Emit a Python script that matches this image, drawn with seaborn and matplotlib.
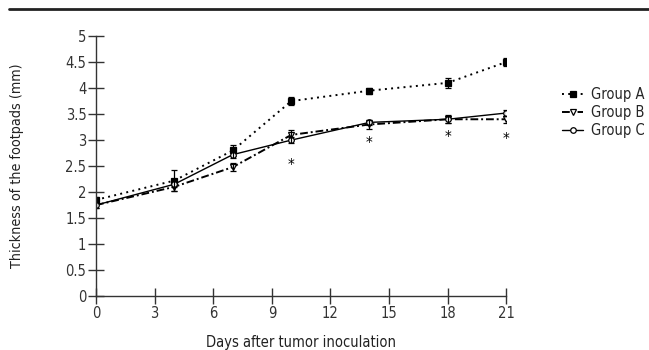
import matplotlib
matplotlib.use("Agg")
import matplotlib.pyplot as plt
import seaborn as sns
import pandas as pd
from matplotlib.lines import Line2D

days = [0, 4, 7, 10, 14, 18, 21]
group_a = [1.85, 2.22, 2.80, 3.75, 3.95, 4.10, 4.50]
group_b = [1.75, 2.10, 2.48, 3.10, 3.30, 3.40, 3.40]
group_c = [1.75, 2.15, 2.72, 3.00, 3.34, 3.40, 3.52]
err_a = [0.05, 0.20, 0.10, 0.08, 0.06, 0.09, 0.08]
err_b = [0.05, 0.08, 0.08, 0.10, 0.08, 0.08, 0.07]
err_c = [0.05, 0.06, 0.07, 0.06, 0.05, 0.07, 0.06]
star_days = [10, 14, 18, 21]
star_y = [2.52, 2.94, 3.04, 3.02]
groups = ["Group A", "Group B", "Group C"]

sns.set_theme(style="ticks")
plt.rcParams['font.family'] = ['DejaVu Sans']
plt.rcParams['font.stretch'] = 'condensed'

rows = []
for g, vals in zip(groups, [group_a, group_b, group_c]):
    for d, v in zip(days, vals):
        rows.append({"day": d, "value": v, "group": g})
df = pd.DataFrame(rows)

fig = plt.figure(figsize=(6.49, 3.5), dpi=100)
ax = fig.add_axes([0.148, 0.154, 0.632, 0.743])

styles = {"Group A": (0, (1, 2.2)), "Group B": (0, (4, 1.5, 1, 1.5)), "Group C": "-"}
markers = {"Group A": "s", "Group B": "v", "Group C": "o"}
mfc = {"Group A": "black", "Group B": "white", "Group C": "white"}

for g, vals, errs in zip(groups, [group_a, group_b, group_c], [err_a, err_b, err_c]):
    sub = df[df.group == g]
    sns.lineplot(data=sub, x="day", y="value", ax=ax, color="black",
                 linestyle=styles[g], linewidth=1.4 if g != "Group C" else 1.0,
                 marker=markers[g], markersize=4, markerfacecolor=mfc[g],
                 markeredgecolor="black", markeredgewidth=0.9, label=g)
    ax.errorbar(days, vals, yerr=errs, fmt="none", ecolor="black",
                elinewidth=0.9, capsize=2, capthick=0.9)

for d, y in zip(star_days, star_y):
    ax.text(d, y, "*", ha="center", va="center", fontsize=11, color="black")

ax.set_xlim(0, 21)
ax.set_ylim(0, 5)
ax.set_xticks(range(0, 22, 3))
ax.set_yticks([i * 0.5 for i in range(11)])
ax.set_yticklabels(["0", "0.5", "1", "1.5", "2", "2.5", "3", "3.5", "4", "4.5", "5"])
for s in ["top", "right"]:
    ax.spines[s].set_visible(False)
for s in ["left", "bottom"]:
    ax.spines[s].set_linewidth(1.0)
    ax.spines[s].set_color("#333333")
ax.tick_params(direction="inout", length=12, width=1.0, labelsize=10.5, colors="#333333", pad=1)
ax.set_xlabel("Days after tumor inoculation", fontsize=10.5, color="#222222", labelpad=10)
ax.set_ylabel("Thickness of the footpads (mm)", fontsize=10.3, color="#222222")
ax.yaxis.set_label_coords(-0.175, 0.5)

leg = ax.legend(loc="upper left", bbox_to_anchor=(1.105, 0.855), frameon=False,
                fontsize=10.5, handlelength=1.4, handletextpad=0.55, labelspacing=0.22)

fig.add_artist(Line2D([9 / 649, 1.0], [1 - 9 / 350, 1 - 9 / 350], color="#222222",
                      linewidth=2, transform=fig.transFigure))

fig.savefig("out.png", dpi=100)
